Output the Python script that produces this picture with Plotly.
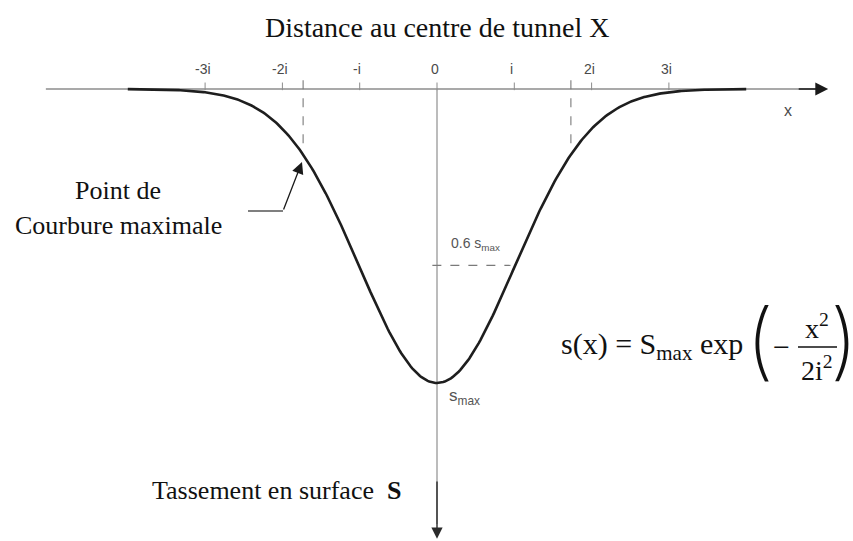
import numpy as np
import plotly.graph_objects as go

# Settlement trough parameters (x in units of i, s in units of S_max)
S_MAX = 1.0
I_WIDTH = 1.0
CURVE_X_RANGE = (-4.0, 4.0)
N_SAMPLES = 401

# Horizontal axis ticks
TICK_POS = [-3, -2, -1, 0, 1, 2, 3]
TICK_LABELS = ["-3i", "-2i", "-i", "0", "i", "2i", "3i"]

# Points of maximum curvature (x = ±sqrt(3) i) and the 0.6 S_max level
MAX_CURV_X = [-np.sqrt(3) * I_WIDTH, np.sqrt(3) * I_WIDTH]
INFLECTION_LEVEL = 0.6

# Axis extents
X_AXIS_EXTENT = 5.06
S_AXIS_END = 1.53

x = np.linspace(CURVE_X_RANGE[0], CURVE_X_RANGE[1], N_SAMPLES)
s = S_MAX * np.exp(-x ** 2 / (2 * I_WIDTH ** 2))


def settlement(xv):
    return S_MAX * np.exp(-xv ** 2 / (2 * I_WIDTH ** 2))


# pixel helpers for placing text (437 px = x origin, 77.3 px per i; 89 px = s origin, 294 px per S_max)
def px(v):
    return (v - 437) / 77.3


def py(v):
    return (v - 89) / 294


SERIF = "Liberation Serif, Times New Roman, serif"
SANS = "Liberation Sans Narrow, Liberation Sans, Arial, sans-serif"
PAREN_FONT = "Inter, Roboto, Liberation Sans, sans-serif"
AXIS_GREY = "#8c8c8c"
LABEL_GREY = "#4a4a4a"
INK = "#111111"

fig = go.Figure()

# Horizontal axis line
fig.add_trace(go.Scatter(x=[-X_AXIS_EXTENT, X_AXIS_EXTENT - 0.15], y=[0, 0], mode="lines",
                         line=dict(color=AXIS_GREY, width=1.6), hoverinfo="skip"))
# Vertical axis line
fig.add_trace(go.Scatter(x=[0, 0], y=[0, S_AXIS_END - 0.05], mode="lines",
                         line=dict(color="#a0a0a0", width=1.4), hoverinfo="skip"))

# Tick marks
for tp in TICK_POS:
    fig.add_trace(go.Scatter(x=[tp, tp], y=[-0.022, 0.004], mode="lines",
                             line=dict(color=AXIS_GREY, width=1), hoverinfo="skip"))

# Dashed verticals at the points of maximum curvature
for xc in MAX_CURV_X:
    fig.add_trace(go.Scatter(x=[xc, xc], y=[-0.03, settlement(xc) - 0.02], mode="lines",
                             line=dict(color="#7a7a7a", width=1.1, dash="dash"), hoverinfo="skip"))

# Dashed horizontal at 0.6 S_max
x_level = np.sqrt(-2 * np.log(INFLECTION_LEVEL)) * I_WIDTH
fig.add_trace(go.Scatter(x=[-0.06, x_level - 0.06], y=[INFLECTION_LEVEL * S_MAX] * 2, mode="lines",
                         line=dict(color="#7a7a7a", width=1.1, dash="dash"), hoverinfo="skip"))

# Settlement curve
fig.add_trace(go.Scatter(x=x, y=s, mode="lines", line=dict(color="#1e1e1e", width=2.6),
                         hoverinfo="skip"))

# Leader line towards the point of maximum curvature
fig.add_trace(go.Scatter(x=[px(248), px(283)], y=[py(211), py(211)], mode="lines",
                         line=dict(color="#555555", width=1.3), hoverinfo="skip"))

# Fraction bar of the formula
fig.add_trace(go.Scatter(x=[px(798), px(837)], y=[py(347)] * 2,
                         mode="lines", line=dict(color=INK, width=1.3), hoverinfo="skip"))

annotations = []

# Arrowheads
annotations.append(dict(x=X_AXIS_EXTENT, y=0, ax=X_AXIS_EXTENT - 0.4, ay=0,
                        axref="x", ayref="y", text="", showarrow=True, arrowhead=2,
                        arrowsize=1.6, arrowwidth=1.6, arrowcolor="#1a1a1a"))
annotations.append(dict(x=0, y=S_AXIS_END, ax=0, ay=S_AXIS_END - 0.2,
                        axref="x", ayref="y", text="", showarrow=True, arrowhead=2,
                        arrowsize=1.6, arrowwidth=1.4, arrowcolor="#2a2a2a"))
annotations.append(dict(x=px(302), y=py(162), ax=px(283), ay=py(211),
                        axref="x", ayref="y", text="", showarrow=True, arrowhead=2,
                        arrowsize=1.8, arrowwidth=1.3, arrowcolor="#1a1a1a"))

# Tick labels
for tp, tl in zip(TICK_POS, TICK_LABELS):
    annotations.append(dict(x=tp - 0.03, y=py(69), text=tl,
                            font=dict(family=SANS, size=14, color=LABEL_GREY)))

annotations += [
    dict(x=px(788), y=py(110), text="x", font=dict(family=SANS, size=16, color=LABEL_GREY)),
    dict(x=px(437), y=py(27), text="Distance au centre de tunnel X",
         font=dict(family=SERIF, size=28, color=INK)),
    dict(x=px(118), y=py(190), text="Point de", font=dict(family=SERIF, size=26, color=INK)),
    dict(x=px(118), y=py(225), text="Courbure maximale", font=dict(family=SERIF, size=26, color=INK)),
    dict(x=px(276), y=py(490), text="Tassement en surface  <b>S</b>",
         font=dict(family=SERIF, size=26, color=INK)),
    dict(x=px(449), y=py(244), text="0.6 s<sub>max</sub>", xanchor="left",
         font=dict(family=SANS, size=14, color="#555555")),
    dict(x=px(447), y=py(397), text="s<sub>max</sub>", xanchor="left",
         font=dict(family=SANS, size=17, color="#555555")),
    # Formula s(x) = S_max exp(-x^2 / 2i^2)
    dict(x=px(559), y=py(346), xanchor="left",
         text="s(x) = S<sub>max</sub> exp", font=dict(family=SERIF, size=30, color=INK)),
    dict(x=px(760), y=py(339), text="(",
         font=dict(family=PAREN_FONT, size=84, color=INK, weight=200)),
    dict(x=px(781), y=py(346), text="−",
         font=dict(family=SERIF, size=30, color=INK)),
    dict(x=px(817), y=py(326), text="x<sup>2</sup>",
         font=dict(family=SERIF, size=28, color=INK)),
    dict(x=px(817), y=py(368), text="2i<sup>2</sup>",
         font=dict(family=SERIF, size=28, color=INK)),
    dict(x=px(844), y=py(339), text=")",
         font=dict(family=PAREN_FONT, size=84, color=INK, weight=200)),
]
for a in annotations:
    a.setdefault("xref", "x")
    a.setdefault("yref", "y")
    a.setdefault("showarrow", False)

fig.update_layout(
    width=853, height=541,
    margin=dict(l=0, r=0, t=0, b=0),
    paper_bgcolor="white", plot_bgcolor="white",
    showlegend=False,
    xaxis=dict(range=[px(0), px(853)], visible=False, fixedrange=True),
    yaxis=dict(range=[py(541), py(0)], visible=False, fixedrange=True),
    annotations=annotations,
)

fig.write_html("out.html")
